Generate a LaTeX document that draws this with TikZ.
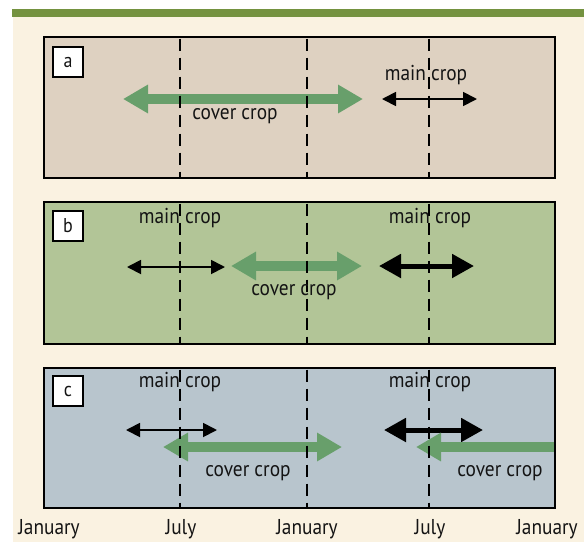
\documentclass[tikz,border=0pt]{standalone}
\usepackage{fontspec}
\setmainfont[FakeStretch=0.9]{PT Sans}
\usetikzlibrary{arrows.meta}
\definecolor{cream}{RGB}{250,242,225}
\definecolor{topbar}{RGB}{116,146,63}
\definecolor{tanfill}{RGB}{222,209,193}
\definecolor{greenfill}{RGB}{178,197,151}
\definecolor{bluefill}{RGB}{184,197,205}
\definecolor{arrowgreen}{RGB}{104,159,107}
\definecolor{txt}{RGB}{20,20,20}
\tikzset{
  panel/.style={draw=black, line width=2.5pt},
  letterbox/.style={draw=black, fill=white, line width=2pt, minimum width=30pt, minimum height=30pt, inner sep=0pt, font=\fontsize{20}{20}\selectfont, text=txt},
  lbl/.style={font=\fontsize{21.5}{21.5}\selectfont, text=txt, inner sep=0pt},
  monthline/.style={draw=black, line width=2pt, dash pattern=on 12pt off 7pt},
  greenarr/.style={draw=arrowgreen, line width=10pt, {Triangle[length=25pt,width=27pt]}-{Triangle[length=25pt,width=27pt]}},
  greenleft/.style={draw=arrowgreen, line width=10pt, {Triangle[length=25pt,width=27pt]}-},
  thinarr/.style={draw=black, line width=1.8pt, {Triangle[length=14pt,width=14pt]}-{Triangle[length=14pt,width=14pt]}},
  thickarr/.style={draw=black, line width=5pt, {Triangle[length=22pt,width=23pt]}-{Triangle[length=22pt,width=23pt]}},
}
\begin{document}
\begin{tikzpicture}[x=1pt,y=-1pt]
\useasboundingbox (0,0) rectangle (584,542);
\fill[white] (0,0) rectangle (584,542);
\fill[cream] (13,17) rectangle (584,542);
\fill[topbar] (12,9) rectangle (584,17);

% panels
\filldraw[panel, fill=tanfill] (44,37) rectangle (555,178);
\filldraw[panel, fill=greenfill] (44,202) rectangle (555,344);
\filldraw[panel, fill=bluefill] (44,368) rectangle (555,508);

% panel a
\draw[greenarr] (123,99) -- (363,99);
\draw[thinarr] (382,99) -- (477,99);
% panel b
\draw[thinarr] (127,267) -- (225,267);
\draw[greenarr] (231,266) -- (362,266);
\draw[thickarr] (379,266) -- (474,266);
% panel c
\draw[thinarr] (126,430) -- (217,430);
\draw[greenarr] (163,447) -- (342,447);
\draw[thickarr] (384,430) -- (483,430);
\draw[greenleft] (416,447) -- (554,447);

% month lines
\foreach \yt/\yb in {37/178, 202/344, 368/508}{
  \foreach \xx in {180,307,429}{
    \draw[monthline] (\xx,\yt+1.5) -- (\xx,\yb-1.5);
  }
}

% letter boxes
\node[letterbox] (la) at (68,62) {a};
\node[letterbox] (lb) at (68,226) {b};
\node[letterbox] (lc) at (68,391) {c};

% texts
\node[lbl] (a1) at (235,116) {cover crop};
\node[lbl] (a2) at (426,75) {main crop};
\node[lbl] (b1) at (180,218) {main crop};
\node[lbl] (b2) at (430,218) {main crop};
\node[lbl] (b3) at (294,292) {cover crop};
\node[lbl] (c1) at (180,382) {main crop};
\node[lbl] (c2) at (430,382) {main crop};
\node[lbl] (c3) at (248,473) {cover crop};
\node[lbl] (c4) at (500,473) {cover crop};

% months
\node[lbl] (m1) at (49,529) {January};
\node[lbl] (m2) at (181,529) {July};
\node[lbl] (m3) at (307,529) {January};
\node[lbl] (m4) at (430,529) {July};
\node[lbl] (m5) at (547,529) {January};
\end{tikzpicture}
\end{document}
